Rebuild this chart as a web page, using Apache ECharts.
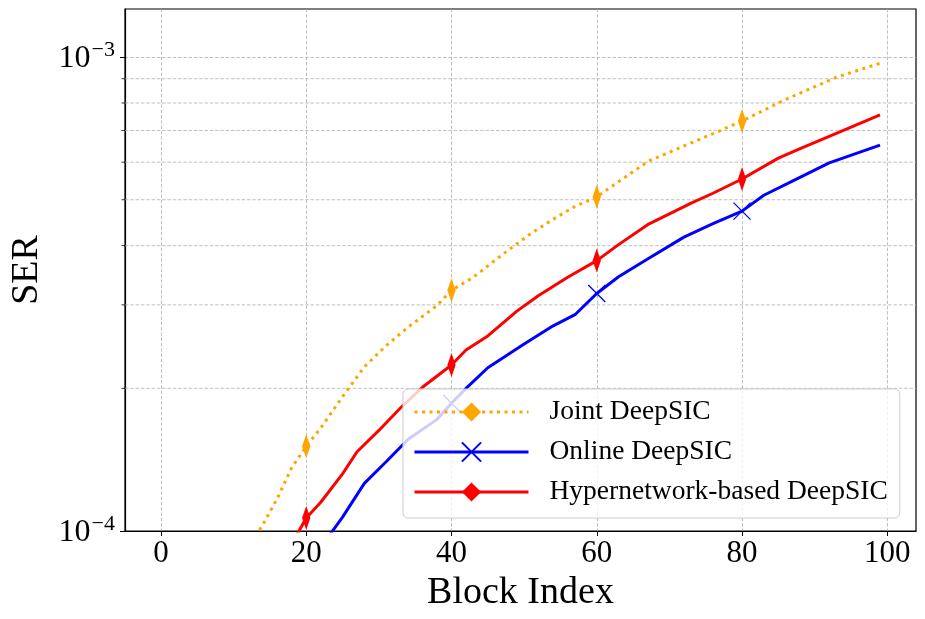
<!DOCTYPE html>
<html>
<head>
<meta charset="utf-8">
<title>SER vs Block Index</title>
<script src="https://cdn.jsdelivr.net/npm/echarts@6/dist/echarts.min.js"></script>
<style>
  html, body { margin: 0; padding: 0; background: #fff; }
  #main { width: 925px; height: 619px; }
</style>
</head>
<body>
<div id="main"></div>
<script>
// values (block index -> SER)
var jointBlocks = [13, 14, 16, 18, 20, 22, 25, 28, 31, 34, 38, 40, 43, 47, 51, 54, 57, 60, 67, 73, 76, 80, 86, 93, 99];
var jointSER = [0.975e-4, 1.03e-4, 1.17e-4, 1.36e-4, 1.51e-4, 1.65e-4, 1.92e-4, 2.22e-4, 2.46e-4, 2.69e-4, 2.99e-4, 3.22e-4,
                3.43e-4, 3.83e-4, 4.25e-4, 4.55e-4, 4.84e-4, 5.07e-4, 6.02e-4, 6.59e-4, 6.89e-4, 7.33e-4, 8.14e-4, 9.07e-4, 9.70e-4];

var onlineBlocks = [23, 25, 28, 31, 34, 38, 40, 42, 45, 50, 54, 57, 60, 63, 67, 72, 76, 80, 83, 87, 92, 99];
var onlineSER = [0.97e-4, 1.07e-4, 1.26e-4, 1.40e-4, 1.56e-4, 1.72e-4, 1.86e-4, 2.00e-4, 2.21e-4, 2.48e-4, 2.71e-4, 2.86e-4,
                 3.17e-4, 3.44e-4, 3.75e-4, 4.17e-4, 4.45e-4, 4.73e-4, 5.11e-4, 5.48e-4, 5.98e-4, 6.52e-4];

var hyperBlocks = [18, 19, 20, 22, 25, 27, 30, 33, 36, 40, 42, 45, 49, 52, 56, 60, 63, 67, 73, 76, 80, 85, 88, 92, 99];
var hyperSER = [0.94e-4, 1.00e-4, 1.065e-4, 1.15e-4, 1.32e-4, 1.47e-4, 1.63e-4, 1.82e-4, 2.01e-4, 2.24e-4, 2.41e-4, 2.58e-4,
                2.91e-4, 3.14e-4, 3.43e-4, 3.72e-4, 4.02e-4, 4.43e-4, 4.92e-4, 5.16e-4, 5.53e-4, 6.12e-4, 6.41e-4, 6.80e-4, 7.55e-4];

var markerBlocks = [20, 40, 60, 80];
var xTicks = [0, 20, 40, 60, 80, 100];
var yMajor = [1e-4, 1e-3];
var yMinor = [2e-4, 3e-4, 4e-4, 5e-4, 6e-4, 7e-4, 8e-4, 9e-4];

var X_MIN = -4.95, X_MAX = 103.95;
var FONT = 'Liberation Serif';
var DIAMOND = 'path://M0,-11L6.5,0L0,11L-6.5,0Z';
var CROSS = 'path://M0,0L10,10M0,10L10,0';
var GRID_LINE = { color: '#b0b0b0', type: [3.5, 1.8], width: 0.8 };

function toPoints(xs, ys) {
    return xs.map(function (x, i) {
        var item = { value: [x, ys[i]] };
        if (markerBlocks.indexOf(x) < 0) item.symbol = 'none';
        return item;
    });
}

// minor log gridlines + minor ticks on the left spine
function renderMinor(params, api) {
    var v = api.value(1);
    var a = api.coord([X_MIN, v]);
    var b = api.coord([X_MAX, v]);
    return {
        type: 'group',
        children: [{
            type: 'line',
            shape: { x1: a[0], y1: a[1], x2: b[0], y2: b[1] },
            style: { stroke: '#b0b0b0', lineWidth: 0.8, lineDash: [3.5, 1.8] }
        }, {
            type: 'line',
            shape: { x1: a[0] - 3.5, y1: a[1], x2: a[0], y2: a[1] },
            style: { stroke: '#000', lineWidth: 0.8 }
        }]
    };
}

var chart = echarts.init(document.getElementById('main'));

var option = {
    animation: false,
    grid: { left: 122, right: 9, top: 9, bottom: 88, show: true, borderColor: '#000', borderWidth: 1.2 },
    legend: {
        orient: 'vertical',
        left: 403, top: 389,
        data: ['Joint DeepSIC', 'Online DeepSIC', 'Hypernetwork-based DeepSIC'],
        itemWidth: 114, itemHeight: 24, itemGap: 12,
        padding: [9, 12, 12, 10],
        backgroundColor: 'rgba(255,255,255,0.8)',
        borderColor: '#cccccc', borderWidth: 1, borderRadius: 5,
        symbolKeepAspect: true,
        lineStyle: { width: 3 },
        textStyle: { fontFamily: FONT, fontSize: 27.5, color: '#000', padding: [0, 0, 0, 16] },
        z: 10
    },
    xAxis: {
        type: 'value', min: X_MIN, max: X_MAX,
        name: 'Block Index', nameLocation: 'middle', nameGap: 37,
        nameTextStyle: { fontFamily: FONT, fontSize: 38, color: '#000' },
        axisLine: { show: true, onZero: false, lineStyle: { color: '#000', width: 1.2 } },
        axisTick: { show: true, customValues: xTicks, length: 5, lineStyle: { color: '#000', width: 1 } },
        axisLabel: { customValues: xTicks, fontFamily: FONT, fontSize: 31, color: '#000', margin: 7 },
        splitLine: { show: true, lineStyle: GRID_LINE }
    },
    yAxis: {
        type: 'log', logBase: 10, min: 1e-4, max: 1.263e-3,
        name: 'SER', nameLocation: 'middle', nameGap: 79,
        nameTextStyle: { fontFamily: FONT, fontSize: 38, color: '#000' },
        axisLine: { show: true, onZero: false, lineStyle: { color: '#000', width: 1.2 } },
        axisTick: { show: true, customValues: yMajor, length: 5, lineStyle: { color: '#000', width: 1 } },
        axisLabel: {
            customValues: yMajor, margin: 10,
            formatter: function (v) {
                return '{b|10}{s|\u2212' + (-Math.round(Math.log10(v))) + '}';
            },
            rich: {
                b: { fontFamily: FONT, fontSize: 32, color: '#000', verticalAlign: 'bottom' },
                s: { fontFamily: FONT, fontSize: 22, color: '#000', verticalAlign: 'top', padding: [0, 0, 14, 1] }
            }
        },
        splitLine: { show: true, lineStyle: GRID_LINE }
    },
    series: [{
        name: 'minor', type: 'custom', silent: true, clip: false, z: 1,
        data: yMinor.map(function (v) { return [X_MIN, v]; }),
        encode: { x: 0, y: 1 },
        renderItem: renderMinor
    }, {
        name: 'Joint DeepSIC', type: 'line', data: toPoints(jointBlocks, jointSER), z: 3,
        symbol: DIAMOND, symbolSize: [14, 24], symbolKeepAspect: true,
        lineStyle: { color: '#FFA500', width: 3, type: [3, 4.5] },
        itemStyle: { color: '#FFA500' }
    }, {
        name: 'Online DeepSIC', type: 'line', data: toPoints(onlineBlocks, onlineSER), z: 4,
        symbol: CROSS, symbolSize: 17, symbolKeepAspect: true,
        lineStyle: { color: '#0000FF', width: 3 },
        itemStyle: { color: '#0000FF', borderColor: '#0000FF', borderWidth: 1.3 }
    }, {
        name: 'Hypernetwork-based DeepSIC', type: 'line', data: toPoints(hyperBlocks, hyperSER), z: 5,
        symbol: DIAMOND, symbolSize: [14, 24], symbolKeepAspect: true,
        lineStyle: { color: '#FF0000', width: 3 },
        itemStyle: { color: '#FF0000' }
    }]
};

chart.setOption(option);
</script>
</body>
</html>
